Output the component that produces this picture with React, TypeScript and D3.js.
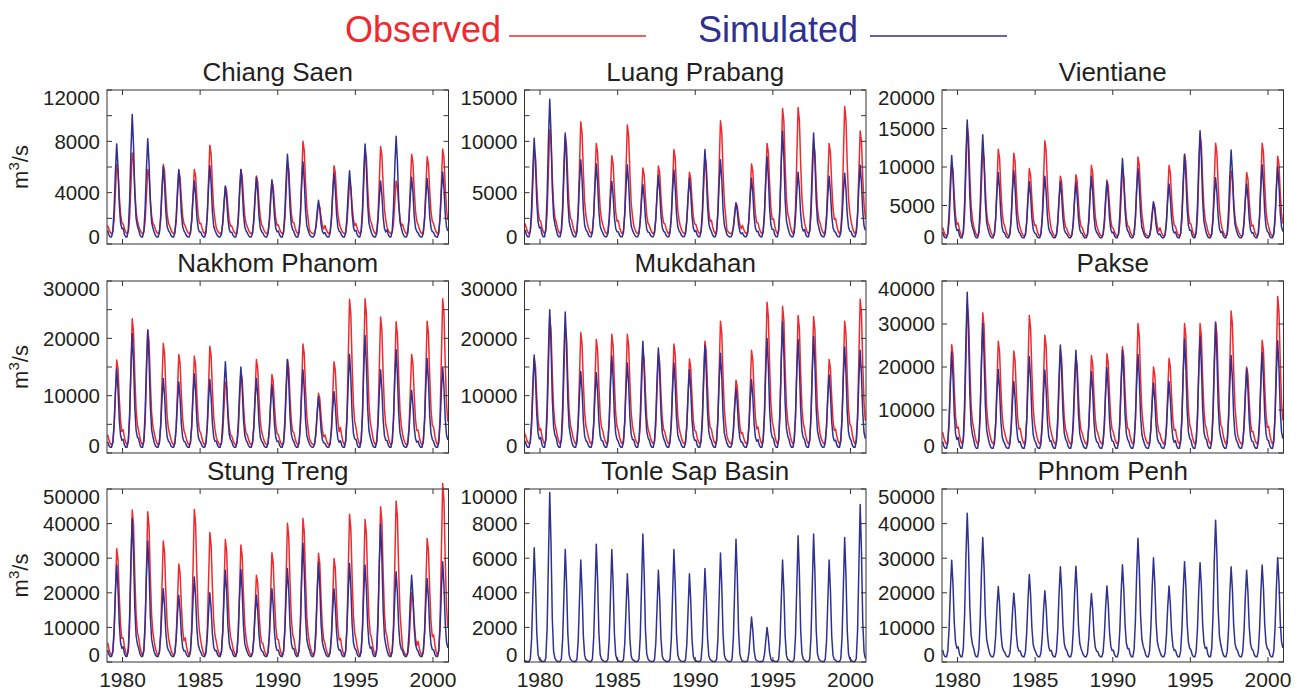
import React from 'react';
import * as d3 from 'd3';

// one hydrological year per entry, Jan 1979 .. Dec 2000
const YEARS = [1979, 1980, 1981, 1982, 1983, 1984, 1985, 1986, 1987, 1988, 1989,
	1990, 1991, 1992, 1993, 1994, 1995, 1996, 1997, 1998, 1999, 2000];

// monthly hydrograph shape (Jan..Dec), fraction of the yearly rise above base flow
const OBS_SHAPE = [0.12, 0.06, 0.02, 0, 0.03, 0.2, 0.6, 1, 0.9, 0.55, 0.28, 0.16];
const SIM_SHAPE = [0.07, 0.02, 0, 0, 0.06, 0.3, 0.7, 1, 0.75, 0.35, 0.15, 0.09];
const TONLE_SHAPE = [0.01, 0, 0, 0, 0.02, 0.2, 0.6, 1, 0.7, 0.25, 0.06, 0.02];

// yearly peak flow (m3/s)
const chiangSaenObs = [6200, 7100, 5800, 6200, 5700, 5800, 7700, 4500, 5800, 5300, 4900, 6400, 8000, 3100, 6100, 4800, 7400, 7600, 4900, 7000, 6800, 7400];
const chiangSaenSim = [7800, 10100, 8200, 6000, 5800, 4900, 6100, 4500, 5800, 5200, 5000, 7000, 6400, 3400, 5500, 5700, 7800, 4900, 8400, 5200, 5100, 5600];
const luangPrabangObs = [9300, 11100, 10500, 11900, 9800, 8600, 11600, 7400, 7600, 9200, 7000, 8500, 12000, 4000, 7800, 9800, 13200, 13300, 9800, 9800, 13400, 11000];
const luangPrabangSim = [10300, 14100, 10800, 8200, 7800, 6100, 7700, 5800, 6700, 7200, 6400, 9200, 8200, 4000, 6400, 8500, 11000, 7000, 10800, 6600, 6900, 7700];
const vientianeObs = [10500, 15300, 12200, 12300, 11800, 9800, 13400, 8800, 9000, 10200, 8300, 9400, 11300, 5300, 10200, 11700, 14200, 13100, 9500, 9300, 13100, 11400];
const vientianeSim = [11500, 16100, 14200, 9300, 9500, 8100, 8800, 8100, 8000, 8800, 8100, 11100, 9800, 5500, 7800, 11600, 14700, 8600, 12200, 7800, 10300, 10000];
const nakhomObs = [16200, 23400, 21500, 19100, 17200, 16900, 18600, 12400, 14200, 16300, 13700, 16300, 19000, 10400, 15900, 26800, 26900, 23700, 22900, 17200, 23000, 26900];
const nakhomSim = [14600, 20800, 21400, 13000, 12400, 13800, 12800, 15900, 15000, 13000, 12000, 16300, 14500, 9800, 10700, 17200, 20500, 14500, 18000, 10900, 16500, 15000];
const mukdahanObs = [16500, 23700, 22100, 21000, 19800, 20700, 20700, 17900, 17400, 19000, 16400, 19500, 23000, 12700, 17900, 26300, 25600, 24000, 23800, 16300, 23000, 26800];
const mukdahanSim = [17100, 25000, 24600, 14200, 14000, 16900, 15700, 19500, 18300, 15700, 14500, 18800, 17400, 11300, 12800, 20000, 22900, 19800, 20300, 13600, 18500, 17900];
const pakseObs = [25200, 34700, 32600, 26000, 23700, 32000, 27400, 24100, 22400, 22700, 23100, 24700, 30100, 20000, 22000, 30100, 30100, 30500, 33000, 20000, 26200, 36400];
const pakseSim = [23500, 37400, 30100, 19400, 16600, 22400, 19300, 25100, 23900, 18900, 19800, 23900, 22900, 16200, 16600, 26500, 27100, 30200, 22700, 19600, 23300, 26100];
const stungTrengObs = [32800, 43900, 43400, 35000, 28300, 44100, 37400, 35400, 33800, 25100, 31600, 40100, 41500, 31400, 29900, 42700, 41200, 44900, 46500, 20000, 35700, 51600];
const stungTrengSim = [28000, 41500, 35000, 21200, 19300, 24600, 20000, 26500, 26800, 19300, 21200, 27000, 34300, 28700, 21200, 28500, 28000, 39900, 26100, 25100, 24100, 29000];
const tonleSapSim = [6600, 9800, 6500, 5900, 6800, 6500, 5100, 7400, 5300, 6500, 5100, 5400, 6300, 7100, 2600, 2000, 5900, 7300, 7400, 5900, 7200, 9100];
const phnomPenhSim = [29400, 43000, 36000, 21800, 19900, 25300, 20600, 27500, 27700, 19800, 22000, 28100, 35800, 30100, 22000, 29000, 28700, 41000, 27500, 26500, 28000, 30200];

const X_TICKS = [1980, 1985, 1990, 1995, 2000];

const STATIONS = [
	{name: 'Chiang Saen', obs: chiangSaenObs, sim: chiangSaenSim, obsLow: 800, simLow: 550, yMax: 12000, labelStep: 4000, tickStep: 2000, shape: SIM_SHAPE},
	{name: 'Luang Prabang', obs: luangPrabangObs, sim: luangPrabangSim, obsLow: 1000, simLow: 700, yMax: 15000, labelStep: 5000, tickStep: 2500, shape: SIM_SHAPE},
	{name: 'Vientiane', obs: vientianeObs, sim: vientianeSim, obsLow: 1000, simLow: 800, yMax: 20000, labelStep: 5000, tickStep: 5000, shape: SIM_SHAPE},
	{name: 'Nakhom Phanom', obs: nakhomObs, sim: nakhomSim, obsLow: 1400, simLow: 1000, yMax: 30000, labelStep: 10000, tickStep: 5000, shape: SIM_SHAPE},
	{name: 'Mukdahan', obs: mukdahanObs, sim: mukdahanSim, obsLow: 1600, simLow: 1000, yMax: 30000, labelStep: 10000, tickStep: 5000, shape: SIM_SHAPE},
	{name: 'Pakse', obs: pakseObs, sim: pakseSim, obsLow: 2100, simLow: 1100, yMax: 40000, labelStep: 10000, tickStep: 10000, shape: SIM_SHAPE},
	{name: 'Stung Treng', obs: stungTrengObs, sim: stungTrengSim, obsLow: 1900, simLow: 1600, yMax: 50000, labelStep: 10000, tickStep: 10000, shape: SIM_SHAPE},
	{name: 'Tonle Sap Basin', obs: null, sim: tonleSapSim, obsLow: 0, simLow: 30, yMax: 10000, labelStep: 2000, tickStep: 2000, shape: TONLE_SHAPE},
	{name: 'Phnom Penh', obs: null, sim: phnomPenhSim, obsLow: 0, simLow: 1500, yMax: 50000, labelStep: 10000, tickStep: 10000, shape: SIM_SHAPE},
];

const RED = '#ee2a2f';
const BLUE = '#2e3192';
const INK = '#231f20';
const FONT = '"Liberation Sans", Arial, Helvetica, sans-serif';

const COL_X = [107, 524.5, 942];
const PANEL_W = 341.5;
const ROWS = [[90, 244], [281, 453], [489, 662]];

type Pt = {t: number, v: number};

function monthly(peaks: number[], low: number, shape: number[]): Pt[] {
	return YEARS.flatMap((yr, i) => shape.map((f, m) => ({t: yr + (m + 0.5) / 12, v: low + (peaks[i] - low) * f})));
}

function Panel({st, col, row}: any) {
	const left = COL_X[col];
	const right = left + PANEL_W;
	const [top, bottom] = ROWS[row];
	const x = d3.scaleLinear().domain([1979, 2001]).range([left, right]);
	const y = d3.scaleLinear().domain([0, st.yMax]).range([bottom, top]);
	const line = d3.line<Pt>().x(d => x(d.t)).y(d => y(d.v));

	const yTicks = d3.range(0, st.yMax + 1, st.tickStep);
	const half = 7.4;

	return (
		<g>
			<text x={(left + right) / 2} y={top - 9} textAnchor="middle" fontSize={26} fill={INK}>{st.name}</text>
			{st.obs && <path d={line(monthly(st.obs, st.obsLow, OBS_SHAPE)) || ''} fill="none" stroke={RED} strokeWidth={1.5} strokeLinejoin="round"/>}
			<path d={line(monthly(st.sim, st.simLow, st.shape)) || ''} fill="none" stroke={BLUE} strokeWidth={1.5} strokeLinejoin="round"/>
			<rect x={left} y={top} width={PANEL_W} height={bottom - top} fill="none" stroke="#333" strokeWidth={1}/>
			{yTicks.map(v => (
				<g key={'y' + v}>
					<line x1={left} x2={left + 5} y1={y(v)} y2={y(v)} stroke="#333"/>
					<line x1={right} x2={right - 5} y1={y(v)} y2={y(v)} stroke="#333"/>
					{v % st.labelStep === 0 &&
						<text x={left - 7} y={Math.min(Math.max(y(v), top + half), bottom - half) + half}
							textAnchor="end" fontSize={20.5} fill={INK}>{v}</text>}
				</g>
			))}
			{X_TICKS.map(t => (
				<g key={'x' + t}>
					<line x1={x(t)} x2={x(t)} y1={bottom} y2={bottom - 5} stroke="#333"/>
					<line x1={x(t)} x2={x(t)} y1={top} y2={top + 5} stroke="#333"/>
					{row === 2 && <text x={x(t)} y={bottom + 25} textAnchor="middle" fontSize={21} fill={INK}>{t}</text>}
				</g>
			))}
			{col === 0 &&
				<text transform={`translate(28,${(top + bottom) / 2}) rotate(-90)`} textAnchor="middle" fontSize={22} fill={INK}>
					m<tspan fontSize={15} dy={-9}>3</tspan><tspan dy={9}>/s</tspan>
				</text>}
		</g>
	);
}

export default function App() {
	return (
		<svg width={1301} height={691} style={{position: 'absolute', left: 0, top: 0, background: '#fff'}} fontFamily={FONT}>
			<text x={345} y={42} fontSize={36} fill={RED}>Observed</text>
			<line x1={509} x2={646} y1={36} y2={36} stroke={RED} strokeWidth={1.5}/>
			<text x={698} y={42} fontSize={36} fill={BLUE}>Simulated</text>
			<line x1={870} x2={1007} y1={36} y2={36} stroke={BLUE} strokeWidth={1.5}/>
			{STATIONS.map((st, i) => (
				<Panel key={st.name} st={st} col={i % 3} row={Math.floor(i / 3)}/>
			))}
		</svg>
	);
}
